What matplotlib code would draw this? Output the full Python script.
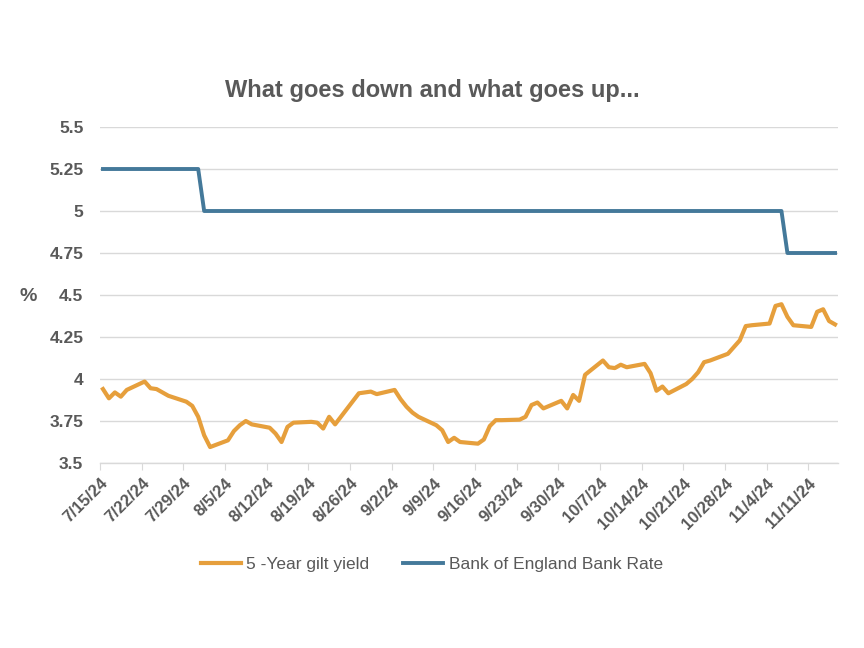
import numpy as np
import pandas as pd
import matplotlib
matplotlib.use("Agg")
import matplotlib.pyplot as plt
import matplotlib.dates as mdates

plt.rcParams["font.family"] = ["Liberation Sans", "DejaVu Sans"]

# business days, 26 Aug (UK bank holiday) has no gilt print
dates = pd.bdate_range("2024-07-15", "2024-11-15")
dates = dates[dates != pd.Timestamp("2024-08-26")]

gilt_5y = [
    3.94, 3.885, 3.92, 3.895, 3.935,      # 7/15
    3.985, 3.945, 3.94, 3.92, 3.90,       # 7/22
    3.865, 3.84, 3.775, 3.665, 3.595,     # 7/29
    3.635, 3.69, 3.725, 3.75, 3.73,       # 8/5
    3.71, 3.675, 3.625, 3.715, 3.74,      # 8/12
    3.745, 3.74, 3.705, 3.775, 3.73,      # 8/19
    3.915, 3.92, 3.925, 3.91,             # 8/27
    3.935, 3.88, 3.835, 3.80, 3.775,      # 9/2
    3.725, 3.695, 3.625, 3.65, 3.625,     # 9/9
    3.615, 3.64, 3.72, 3.755, 3.755,      # 9/16
    3.758, 3.775, 3.845, 3.86, 3.825,     # 9/23
    3.87, 3.825, 3.905, 3.87, 4.025,      # 9/30
    4.11, 4.07, 4.065, 4.085, 4.07,       # 10/7
    4.09, 4.035, 3.93, 3.955, 3.915,      # 10/14
    3.97, 4.0, 4.04, 4.10, 4.11,          # 10/21
    4.15, 4.19, 4.23, 4.315, 4.32,        # 10/28
    4.33, 4.435, 4.445, 4.37, 4.32,       # 11/4
    4.31, 4.40, 4.415, 4.345, 4.325,      # 11/11
]

cut_dates = [pd.Timestamp("2024-08-01"), pd.Timestamp("2024-11-07")]
rate_levels = [5.25, 5.0, 4.75]
bank_rate = [rate_levels[int(np.sum(d >= np.array(cut_dates)))] for d in dates]

week_ticks = pd.date_range("2024-07-15", "2024-11-11", freq="7D")
tick_labels = [f"{d.month}/{d.day}/{d.strftime('%y')}" for d in week_ticks]
y_ticks = [3.5, 3.75, 4, 4.25, 4.5, 4.75, 5, 5.25, 5.5]
y_labels = ["3.5", "3.75", "4", "4.25", "4.5", "4.75", "5", "5.25", "5.5"]

GREY = "#595959"
ORANGE = "#E69F3C"
BLUE = "#44799A"

fig = plt.figure(figsize=(8.64, 6.48), dpi=100)
ax = fig.add_axes([100 / 864, 1 - 463 / 648, 738 / 864, 336 / 648])

x = mdates.date2num(dates)
ax.plot(x, gilt_5y, color=ORANGE, lw=3.0, label="5 -Year gilt yield", solid_joinstyle="round")
ax.plot(x, bank_rate, color=BLUE, lw=2.8, label="Bank of England Bank Rate")

ax.set_xlim(x[0] - 0.5, x[-1] + 0.5)
ax.set_ylim(3.5, 5.5)
ax.set_yticks(y_ticks)
ax.set_yticklabels(y_labels)
ax.set_xticks(mdates.date2num(week_ticks) - 0.5)
ax.set_xticklabels(tick_labels, rotation=45, ha="right", va="top", rotation_mode="anchor")

ax.grid(axis="y", color="#d9d9d9", lw=1)
ax.set_axisbelow(True)
for s in ["top", "right", "left"]:
    ax.spines[s].set_visible(False)
ax.spines["bottom"].set_color("#d9d9d9")
ax.spines["bottom"].set_linewidth(1)
ax.tick_params(axis="y", length=0, pad=12, labelsize=12.5, labelcolor=GREY)
ax.tick_params(axis="x", length=5, color="#d9d9d9", pad=4, labelsize=12, labelcolor=GREY)
for lab in ax.get_xticklabels() + ax.get_yticklabels():
    lab.set_fontweight("bold")

fig.text(0.5, 1 - 90 / 648, "What goes down and what goes up...", ha="center", va="center",
         fontsize=17, fontweight="bold", color=GREY)
fig.text(28 / 864, 1 - 297 / 648, "%", ha="center", va="center",
         fontsize=14, fontweight="bold", color=GREY)

fig.legend(loc="center", bbox_to_anchor=(0.5, 1 - 564 / 648), ncol=2, frameon=False,
           fontsize=12.5, labelcolor=GREY, handlelength=2.3, handletextpad=0.3,
           columnspacing=1.95)

fig.savefig("out.png", dpi=100)
